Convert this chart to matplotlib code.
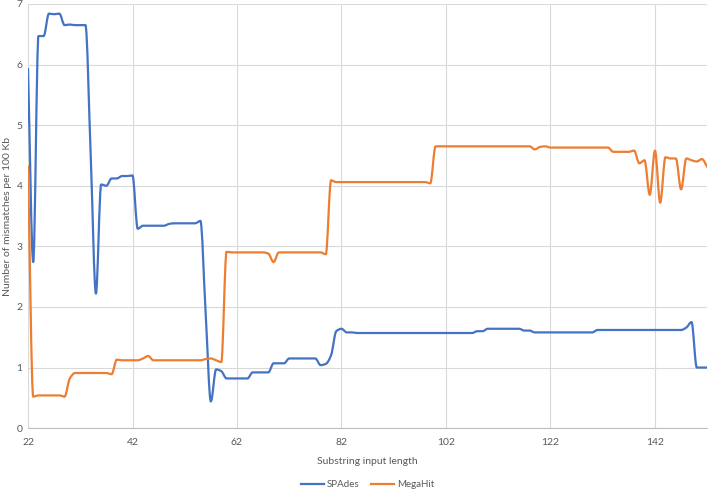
import matplotlib
matplotlib.use("Agg")
import matplotlib.pyplot as plt
from matplotlib.path import Path
from matplotlib.patches import PathPatch
from matplotlib.lines import Line2D

plt.rcParams["font.family"] = ["Lato", "DejaVu Sans"]

# ── Data ───────────────────────────────────────────────────────────────────
lengths = list(range(22, 153))

spades = [
    5.93, 2.74, 6.47, 6.47, 6.84, 6.83, 6.84, 6.65, 6.66, 6.65,   # 22-31
    6.65, 6.65, 4.50, 2.22, 4.02, 4.00, 4.12, 4.12, 4.16, 4.16,   # 32-41
    4.17, 3.29, 3.34, 3.34, 3.34, 3.34, 3.34, 3.37, 3.38, 3.38,   # 42-51
    3.38, 3.38, 3.38, 3.42, 1.90, 0.44, 0.97, 0.94, 0.82, 0.82,   # 52-61
    0.82, 0.82, 0.82, 0.92, 0.92, 0.92, 0.92, 1.07, 1.07, 1.07,   # 62-71
    1.15, 1.15, 1.15, 1.15, 1.15, 1.15, 1.04, 1.06, 1.20, 1.60,   # 72-81
    1.64, 1.58, 1.58, 1.57, 1.57, 1.57, 1.57, 1.57, 1.57, 1.57,   # 82-91
    1.57, 1.57, 1.57, 1.57, 1.57, 1.57, 1.57, 1.57, 1.57, 1.57,   # 92-101
    1.57, 1.57, 1.57, 1.57, 1.57, 1.57, 1.60, 1.60, 1.64, 1.64,   # 102-111
    1.64, 1.64, 1.64, 1.64, 1.64, 1.61, 1.61, 1.58, 1.58, 1.58,   # 112-121
    1.58, 1.58, 1.58, 1.58, 1.58, 1.58, 1.58, 1.58, 1.58, 1.62,   # 122-131
    1.62, 1.62, 1.62, 1.62, 1.62, 1.62, 1.62, 1.62, 1.62, 1.62,   # 132-141
    1.62, 1.62, 1.62, 1.62, 1.62, 1.62, 1.66, 1.75, 1.00, 1.00,   # 142-151
    1.00,                                                         # 152
]

megahit = [
    4.32, 0.52, 0.54, 0.54, 0.54, 0.54, 0.54, 0.52, 0.82, 0.91,   # 22-31
    0.91, 0.91, 0.91, 0.91, 0.91, 0.91, 0.89, 1.13, 1.12, 1.12,   # 32-41
    1.12, 1.12, 1.15, 1.19, 1.12, 1.12, 1.12, 1.12, 1.12, 1.12,   # 42-51
    1.12, 1.12, 1.12, 1.12, 1.14, 1.15, 1.12, 1.09, 2.91, 2.90,   # 52-61
    2.90, 2.90, 2.90, 2.90, 2.90, 2.90, 2.88, 2.74, 2.90, 2.90,   # 62-71
    2.90, 2.90, 2.90, 2.90, 2.90, 2.90, 2.90, 2.87, 4.09, 4.06,   # 72-81
    4.06, 4.06, 4.06, 4.06, 4.06, 4.06, 4.06, 4.06, 4.06, 4.06,   # 82-91
    4.06, 4.06, 4.06, 4.06, 4.06, 4.06, 4.06, 4.04, 4.65, 4.65,   # 92-101
    4.65, 4.65, 4.65, 4.65, 4.65, 4.65, 4.65, 4.65, 4.65, 4.65,   # 102-111
    4.65, 4.65, 4.65, 4.65, 4.65, 4.65, 4.65, 4.60, 4.64, 4.65,   # 112-121
    4.63, 4.63, 4.63, 4.63, 4.63, 4.63, 4.63, 4.63, 4.63, 4.63,   # 122-131
    4.63, 4.63, 4.56, 4.56, 4.56, 4.56, 4.58, 4.37, 4.42, 3.85,   # 132-141
    4.58, 3.72, 4.47, 4.45, 4.45, 3.94, 4.45, 4.42, 4.40, 4.44,   # 142-151
    4.31,                                                         # 152
]

x_ticks = [22, 42, 62, 82, 102, 122, 142]
y_ticks = [0, 1, 2, 3, 4, 5, 6, 7]

BLUE = "#4472C4"
ORANGE = "#ED7D31"
GRID = "#D9D9D9"
TEXT = "#595959"


def smooth_path(xs, ys):
    # smoothed line drawn as cubic Beziers through the data points,
    # with monotone (Fritsch-Carlson) tangents so it does not overshoot
    n = len(xs)
    d = [(ys[i + 1] - ys[i]) / (xs[i + 1] - xs[i]) for i in range(n - 1)]
    m = [d[0]] + [0.0] * (n - 2) + [d[-1]]
    for i in range(1, n - 1):
        if d[i - 1] * d[i] > 0:
            m[i] = 2 * d[i - 1] * d[i] / (d[i - 1] + d[i])
    verts = [(xs[0], ys[0])]
    codes = [Path.MOVETO]
    for i in range(n - 1):
        h = xs[i + 1] - xs[i]
        verts += [(xs[i] + h / 3, ys[i] + m[i] * h / 3),
                  (xs[i + 1] - h / 3, ys[i + 1] - m[i + 1] * h / 3),
                  (xs[i + 1], ys[i + 1])]
        codes += [Path.CURVE4] * 3
    return Path(verts, codes)


fig = plt.figure(figsize=(7.09, 4.91), dpi=100, facecolor="white")
ax = fig.add_axes([0.0395, 0.128, 0.958, 0.864])

for series, color in [(spades, BLUE), (megahit, ORANGE)]:
    ax.add_patch(PathPatch(smooth_path(lengths, series), facecolor="none",
                           edgecolor=color, linewidth=1.6,
                           joinstyle="round", capstyle="round", zorder=3))

ax.set_xlim(22, 152)
ax.set_ylim(0, 7)
ax.set_xticks(x_ticks)
ax.set_yticks(y_ticks)
ax.grid(True, color=GRID, linewidth=0.8)
ax.set_axisbelow(True)
ax.tick_params(length=0, labelsize=7.5, labelcolor=TEXT)
ax.tick_params(axis="x", pad=7)
ax.tick_params(axis="y", pad=4)

for side in ["top", "right", "left"]:
    ax.spines[side].set_visible(False)
ax.spines["bottom"].set_color("#BFBFBF")
ax.spines["bottom"].set_linewidth(0.8)

ax.set_xlabel("Substring input length", fontsize=7.5, color=TEXT, labelpad=7)
fig.text(0.011, 0.128 + 0.864 / 2, "Number of mismatches per 100 Kb",
         rotation=90, ha="center", va="center", fontsize=7.5, color=TEXT)

handles = [Line2D([], [], color=BLUE, linewidth=1.6),
           Line2D([], [], color=ORANGE, linewidth=1.6)]
ax.legend(handles, ["SPAdes", "MegaHit"], loc="lower center",
          bbox_to_anchor=(0.5, -0.165), ncol=2, frameon=False, fontsize=7,
          labelcolor=TEXT, handlelength=2.4, columnspacing=1.2,
          handletextpad=0.3)

fig.savefig("out.png", dpi=100)
